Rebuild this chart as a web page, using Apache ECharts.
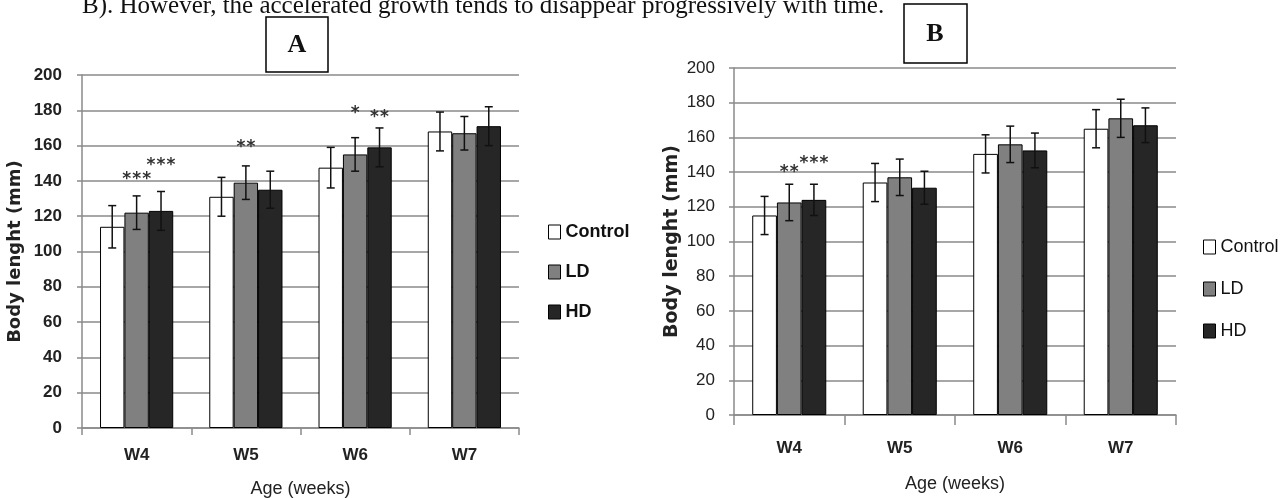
<!DOCTYPE html>
<html lang="en">
<head>
  <meta charset="UTF-8">
  <title>Body length by age</title>
  <script src="https://cdn.jsdelivr.net/npm/echarts@6/dist/echarts.min.js"></script>
  <style>
    body {
      margin: 0;
      background: #fff;
    }
    #chart {
      width: 1286px;
      height: 498px;
    }
  </style>
</head>
<body>
  <div id="chart"></div>
  <script>
    // values (mm)
    const categories = ['W4', 'W5', 'W6', 'W7'];
    const yTicks = [0, 20, 40, 60, 80, 100, 120, 140, 160, 180, 200];

    // panel A
    const controlA = [114, 131, 147.5, 168];
    const ldA = [122, 139, 155, 167];
    const hdA = [123, 135, 159, 171];
    const controlAErr = [12, 11, 11.5, 11];
    const ldAErr = [9.5, 9.5, 9.5, 9.5];
    const hdAErr = [11, 10.5, 11, 11];
    // significance marks and the level (mm) where each one sits
    const controlAStars = ['', '', '', ''];
    const ldAStars = ['***', '**', '*', ''];
    const hdAStars = ['***', '', '**', ''];
    const controlAStarLevel = [0, 0, 0, 0];
    const ldAStarLevel = [141, 159, 178, 0];
    const hdAStarLevel = [148.5, 0, 176, 0];

    // panel B
    const controlB = [115, 134, 150.5, 165];
    const ldB = [122.5, 137, 156, 171];
    const hdB = [124, 131, 152.5, 167];
    const controlBErr = [11, 11, 11, 11];
    const ldBErr = [10.5, 10.5, 10.5, 11];
    const hdBErr = [9, 9.5, 10, 10];
    const controlBStars = ['', '', '', ''];
    const ldBStars = ['**', '', '', ''];
    const hdBStars = ['***', '', '', ''];
    const controlBStarLevel = [0, 0, 0, 0];
    const ldBStarLevel = [139.5, 0, 0, 0];
    const hdBStarLevel = [145, 0, 0, 0];

    const groupNames = ['Control', 'LD', 'HD'];
    const caption = 'B). However, the accelerated growth tends to disappear progressively with time.';

    const fills = { Control: '#ffffff', LD: '#808080', HD: '#262626' };
    const gridGray = '#8a8a8a';
    const sans = 'Liberation Sans';
    const CAT_GAP = 0.33;

    const chart = echarts.init(document.getElementById('chart'));

    // error bar + significance stars for one bar slot of a group
    function errorRenderer(slot, stars) {
      return function (params, api) {
        const cat = api.value(0);
        const mean = api.value(1);
        const err = api.value(2);
        const level = api.value(3);
        const band = api.size([1, 0])[0];
        const barW = band * (1 - CAT_GAP) / 3;
        const x = api.coord([cat, 0])[0] + (slot - 1) * barW;
        const top = api.coord([cat, mean + err])[1];
        const bot = api.coord([cat, mean - err])[1];
        const cap = 4;
        const line = { stroke: '#111', lineWidth: 1.5 };
        const children = [
          { type: 'line', shape: { x1: x, y1: top, x2: x, y2: bot }, style: line },
          { type: 'line', shape: { x1: x - cap, y1: top, x2: x + cap, y2: top }, style: line },
          { type: 'line', shape: { x1: x - cap, y1: bot, x2: x + cap, y2: bot }, style: line }
        ];
        const s = stars[params.dataIndex];
        if (s) {
          // the stars are spread out in the figure, so place them one by one
          const sy = api.coord([cat, level])[1];
          const step = 10;
          const x0 = x - (s.length - 1) * step / 2;
          for (let i = 0; i < s.length; i++) {
            children.push({
              type: 'text',
              style: {
                text: s[i], x: x0 + i * step, y: sy, align: 'center', verticalAlign: 'middle',
                fill: '#333', font: 'bold 17px "DejaVu Sans"'
              }
            });
          }
        }
        return { type: 'group', children: children };
      };
    }

    function panelSeries(idx, means, errs, stars, levels) {
      const out = [];
      groupNames.forEach((name, k) => {
        out.push({
          name: name,
          type: 'bar',
          xAxisIndex: idx,
          yAxisIndex: idx,
          data: means[k],
          barGap: '0%',
          barCategoryGap: (CAT_GAP * 100) + '%',
          itemStyle: { color: fills[name], borderColor: '#000', borderWidth: 1 },
          emphasis: { disabled: true }
        });
      });
      groupNames.forEach((name, k) => {
        out.push({
          type: 'custom',
          xAxisIndex: idx,
          yAxisIndex: idx,
          z: 5,
          silent: true,
          renderItem: errorRenderer(k, stars[k]),
          data: categories.map((c, i) => [i, means[k][i], errs[k][i], levels[k][i]])
        });
      });
      return out;
    }

    function xAxisFor(idx, gap, margin, tickLen) {
      return {
        type: 'category',
        gridIndex: idx,
        data: categories,
        name: 'Age (weeks)',
        nameLocation: 'middle',
        nameGap: gap,
        nameTextStyle: { fontFamily: sans, fontSize: 18, color: '#222' },
        axisLine: { lineStyle: { color: gridGray, width: 1.5 } },
        axisTick: { show: true, length: tickLen, lineStyle: { color: gridGray, width: 1.5 } },
        axisLabel: { fontFamily: sans, fontSize: 17, fontWeight: 'bold', color: '#222', margin: margin },
        splitLine: { show: false }
      };
    }

    function yAxisFor(idx, bold, gap, nameSize, margin) {
      return {
        type: 'value',
        gridIndex: idx,
        min: yTicks[0],
        max: yTicks[yTicks.length - 1],
        interval: yTicks[1] - yTicks[0],
        name: 'Body lenght (mm)',
        nameLocation: 'middle',
        nameGap: gap,
        nameTextStyle: { fontFamily: 'DejaVu Sans', fontSize: nameSize, fontWeight: 'bold', color: '#222' },
        axisLine: { show: true, lineStyle: { color: gridGray, width: 1.5 } },
        axisTick: { show: true, length: 5, lineStyle: { color: gridGray, width: 1.5 } },
        axisLabel: { fontFamily: sans, fontSize: 17, fontWeight: bold ? 'bold' : 'normal', color: '#222', margin: margin },
        splitLine: { lineStyle: { color: gridGray, width: 1.5 } }
      };
    }

    function legendFor(left, top, bold, gap) {
      return {
        data: groupNames,
        orient: 'vertical',
        left: left,
        top: top,
        icon: 'rect',
        itemWidth: 12,
        itemHeight: 14,
        itemGap: gap,
        selectedMode: false,
        itemStyle: { borderColor: '#000', borderWidth: 1 },
        textStyle: { fontFamily: sans, fontSize: 18, fontWeight: bold ? 'bold' : 'normal', color: '#111' }
      };
    }

    const option = {
      backgroundColor: '#fff',
      animation: false,
      grid: [
        { left: 82, top: 75, width: 437, height: 353, outerBoundsMode: 'none' },
        { left: 734, top: 68, width: 442, height: 347, outerBoundsMode: 'none' }
      ],
      xAxis: [xAxisFor(0, 52, 19, 7), xAxisFor(1, 60, 25, 10)],
      yAxis: [yAxisFor(0, true, 58, 18, 20), yAxisFor(1, false, 52, 19, 19)],
      legend: [legendFor(543, 218, true, 22), legendFor(1198, 233, false, 24)],
      series: [].concat(
        panelSeries(0, [controlA, ldA, hdA], [controlAErr, ldAErr, hdAErr],
          [controlAStars, ldAStars, hdAStars], [controlAStarLevel, ldAStarLevel, hdAStarLevel]),
        panelSeries(1, [controlB, ldB, hdB], [controlBErr, ldBErr, hdBErr],
          [controlBStars, ldBStars, hdBStars], [controlBStarLevel, ldBStarLevel, hdBStarLevel])
      ),
      graphic: [
        {
          type: 'text', x: 82, y: -6,
          style: { text: caption, font: '25px "Liberation Serif"', fill: '#111', verticalAlign: 'top' }
        },
        {
          type: 'rect', shape: { x: 266, y: 17, width: 62, height: 55 },
          style: { fill: '#fff', stroke: '#000', lineWidth: 1.5 }
        },
        {
          type: 'text', x: 297, y: 45,
          style: { text: 'A', font: 'bold 26px "Liberation Serif"', fill: '#111', align: 'center', verticalAlign: 'middle' }
        },
        {
          type: 'rect', shape: { x: 904, y: 4, width: 63, height: 59 },
          style: { fill: '#fff', stroke: '#000', lineWidth: 1.5 }
        },
        {
          type: 'text', x: 935, y: 34,
          style: { text: 'B', font: 'bold 26px "Liberation Serif"', fill: '#111', align: 'center', verticalAlign: 'middle' }
        }
      ]
    };

    chart.setOption(option);
  </script>
</body>
</html>
